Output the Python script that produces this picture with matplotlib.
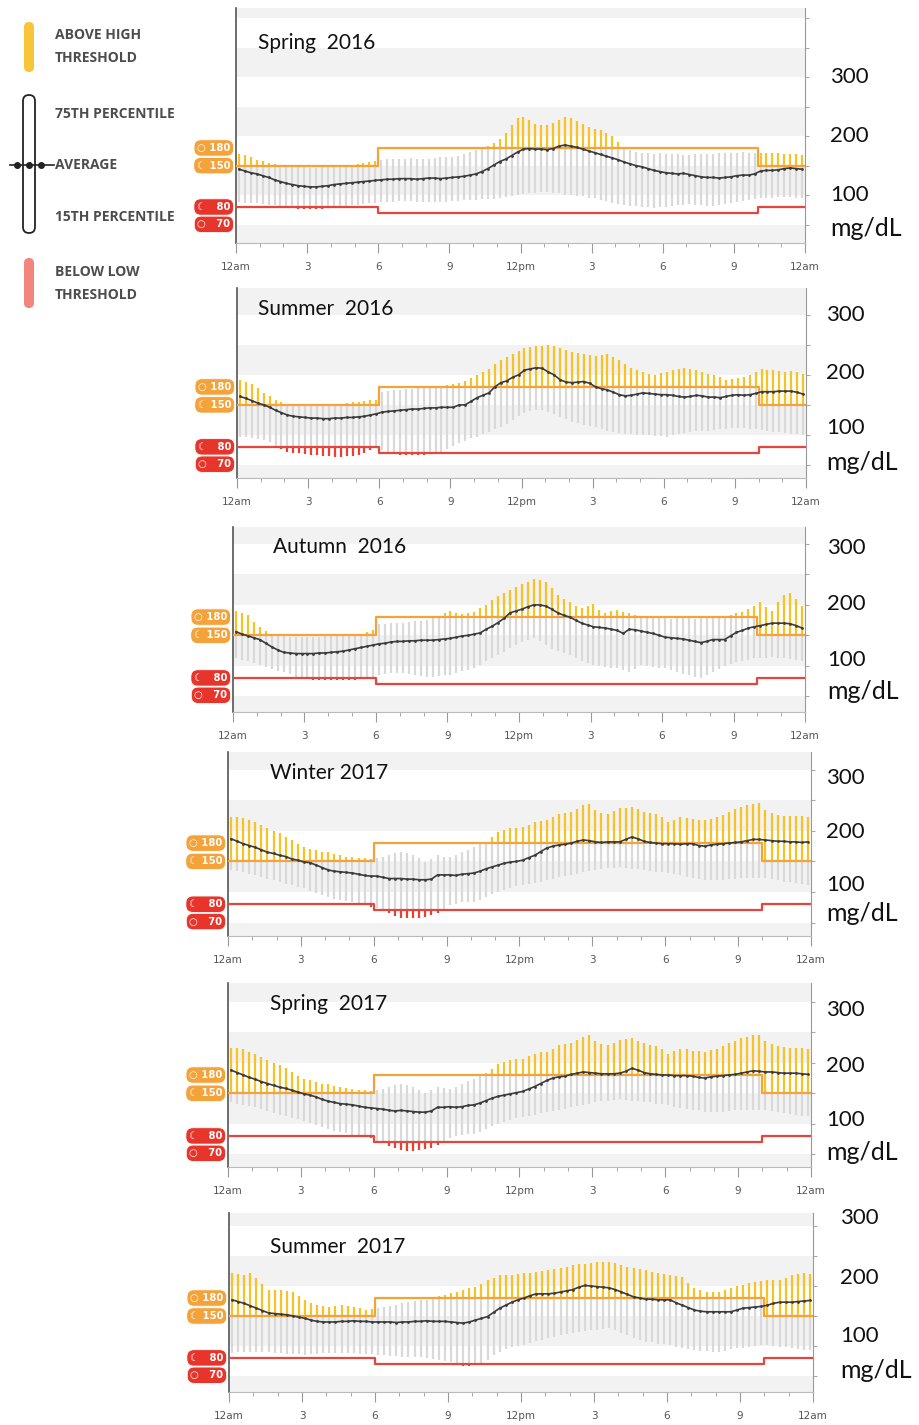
import numpy as np
import matplotlib
matplotlib.use("Agg")
import matplotlib.pyplot as plt
from matplotlib.patches import FancyBboxPatch

W, H = 920, 1425

# 96 slots of 15 minutes, x in hours
slots = np.arange(96) / 4 + 0.125
hour_ticks = [0, 3, 6, 9, 12, 15, 18, 21, 24]
hour_labels = ["12am", "3", "6", "9", "12pm", "3", "6", "9", "12am"]

# targets: night (12am-6am, 10pm-12am) and day
day_start, day_end = 6, 22
high_night, high_day = 150, 180
low_night, low_day = 80, 70

# ---- Spring 2016 ----
spring16_mean = [144,141,138,136, 133,130,126,123, 120,118,116,115, 114,114,115,116, 118,119,120,121, 122,123,124,125,
                 126,127,127,128, 128,128,127,128, 129,129,128,129, 130,131,132,134, 136,140,145,151, 157,161,167,173,
                 178,179,178,178, 177,179,183,185, 183,181,178,175, 172,169,166,163, 160,156,153,150, 148,145,142,140,
                 138,137,136,137, 135,133,131,130, 130,129,130,131, 133,134,134,136, 141,142,142,143, 145,146,145,144]
spring16_p75 = [170,168,164,160, 158,155,153,151, 150,149,148,147, 146,146,147,147, 148,149,150,151, 152,154,156,158,
                160,161,162,161, 162,163,162,162, 162,163,164,164, 165,167,170,173, 176,179,183,188, 195,205,218,230,
                232,228,220,218, 218,222,228,232, 230,226,220,215, 212,210,205,200, 190,182,176,173, 172,171,170,171,
                170,170,169,168, 168,169,169,170, 170,171,171,172, 172,173,172,172, 172,171,172,171, 170,170,169,168]
spring16_p15 = [88,87,87,86, 85,84,83,81, 80,78,77,76, 76,76,77,78, 80,81,82,83, 84,85,86,87,
                88,89,89,90, 90,90,89,89, 88,88,89,89, 90,90,91,91, 92,93,93,94, 95,97,99,100,
                102,103,104,105, 105,104,103,101, 100,99,98,96, 95,92,90,87, 85,83,82,81, 80,80,79,80,
                80,82,83,84, 85,84,83,82, 82,84,85,86, 88,90,92,93, 95,96,96,97, 97,97,96,95]

# ---- Summer 2016 ----
summer16_mean = [164,161,157,153, 150,146,141,137, 133,131,130,129, 128,128,127,127, 128,128,129,129, 130,131,133,135,
                 138,139,140,141, 142,143,143,144, 145,145,146,146, 146,150,150,156, 162,166,170,180, 187,190,196,200,
                 208,210,212,211, 205,200,192,188, 187,188,189,186, 180,177,175,171, 167,165,166,168, 170,169,168,167,
                 167,166,164,163, 164,166,165,163, 163,162,164,166, 167,166,167,169, 172,172,172,173, 173,173,171,168]
summer16_p75 = [192,188,185,178, 170,165,158,155, 152,151,150,150, 150,150,151,150, 152,152,153,154, 155,156,158,158,
                172,173,174,175, 176,177,178,179, 180,182,182,183, 184,187,190,195, 200,205,210,218, 225,230,235,240,
                245,247,248,249, 250,248,245,241, 238,236,235,233, 232,233,235,230, 225,218,212,208, 205,202,200,203,
                205,208,210,211, 210,208,205,202, 200,196,192,193, 195,197,200,205, 210,209,208,206, 205,206,205,202]
summer16_p15 = [97,96,94,93, 92,88,80,76, 72,70,69,68, 67,66,65,64, 63,63,64,65, 67,70,75,78,
                74,71,68,67, 67,66,67,67, 68,70,72,76, 82,87,90,94, 97,101,105,109, 113,118,125,131,
                137,140,142,141, 138,134,130,126, 122,119,116,114, 113,110,107,105, 103,102,101,100, 100,99,98,98,
                97,99,101,103, 105,106,107,107, 108,109,110,111, 112,111,110,109, 108,107,105,104, 103,102,101,100]

# ---- Autumn 2016 ----
autumn16_mean = [156,152,149,146, 143,137,131,126, 122,121,120,120, 120,120,121,121, 122,123,124,126, 128,130,132,134,
                 136,137,139,140, 140,141,141,142, 142,142,143,144, 145,147,149,150, 152,154,160,165, 171,178,187,190,
                 193,197,200,200, 198,193,187,183, 180,175,170,167, 164,163,162,160, 158,153,160,159, 157,155,153,150,
                 147,146,145,144, 142,140,138,140, 143,143,143,149, 155,158,162,164, 166,168,170,170, 170,169,166,162]
autumn16_p75 = [190,187,184,172, 163,157,151,150, 149,148,148,148, 148,148,148,149, 149,149,150,150, 150,152,155,158,
                168,169,170,170, 170,172,173,174, 175,178,182,186, 190,187,185,186, 188,195,200,208, 215,220,225,230,
                235,238,242,241, 238,228,216,210, 204,198,195,199, 202,192,186,190, 192,188,186,183, 180,179,178,178,
                178,177,178,178, 178,177,178,179, 178,180,181,183, 186,189,193,198, 204,196,190,205, 216,219,210,198]
autumn16_p15 = [113,110,107,104, 101,98,95,92, 90,86,82,79, 78,77,77,77, 77,77,76,77, 77,78,80,82,
                84,86,88,88, 88,86,84,83, 82,82,83,84, 85,88,91,93, 96,102,108,113, 118,123,129,134,
                139,143,146,140, 134,128,124,121, 118,113,108,104, 101,99,98,97, 96,93,90,95, 101,99,98,97,
                96,93,90,87, 85,82,80,84, 90,95,99,103, 106,108,110,112, 113,113,114,113, 113,111,109,107]

# ---- Winter 2017 ----
winter17_mean = [187,183,179,176, 173,169,165,163, 160,158,154,152, 149,148,144,140, 136,134,133,132, 131,129,127,126,
                 126,124,122,122, 122,121,121,120, 120,121,128,128, 128,127,129,130, 131,134,138,141, 144,147,149,150,
                 152,156,160,166, 172,175,177,178, 180,183,185,184, 182,181,182,182, 182,186,190,187, 183,181,180,179,
                 179,179,178,179, 179,176,175,177, 178,179,180,181, 182,184,186,186, 185,184,183,183, 182,182,181,182]
winter17_p75 = [223,222,221,218, 214,210,204,200, 196,190,185,179, 173,170,168,166, 165,162,160,158, 157,156,155,154,
                155,157,160,163, 165,163,160,155, 149,154,160,158, 157,161,165,169, 173,178,182,190, 198,201,204,205,
                206,210,214,216, 217,222,228,230, 231,236,242,244, 234,230,228,232, 237,238,239,235, 231,229,228,222,
                214,218,222,221, 220,218,217,220, 222,226,231,235, 239,242,244,245, 234,230,226,225, 224,224,224,222]
winter17_p15 = [136,134,132,130, 128,125,122,119, 116,113,111,108, 106,102,99,95, 92,89,87,85, 83,81,78,76,
                73,69,65,61, 57,57,57,58, 59,62,65,71, 78,80,83,83, 83,87,92,96, 100,103,106,109,
                111,113,115,117, 119,121,124,126, 128,130,132,134, 136,138,139,140, 141,140,138,137, 136,135,133,132,
                131,129,127,125, 123,122,120,119, 119,120,121,122, 123,123,123,123, 123,121,119,117, 116,115,113,112]

# ---- Spring 2017 ----
spring17_mean = [188,184,180,176, 173,169,166,163, 160,158,155,152, 149,147,144,140, 137,135,133,132, 131,129,127,126,
                 125,124,122,121, 122,121,120,119, 119,121,127,127, 128,127,128,130, 131,134,138,142, 145,147,149,151,
                 153,157,161,166, 171,175,177,178, 181,183,185,184, 183,182,182,182, 183,186,191,188, 184,182,181,180,
                 180,179,179,179, 178,176,175,177, 178,179,180,181, 183,185,187,186, 185,185,184,183, 183,183,182,181]
spring17_p75 = [225,224,222,218, 215,210,205,200, 196,191,185,179, 174,171,168,166, 165,162,160,158, 157,156,155,154,
                155,157,161,164, 165,163,160,156, 150,155,160,158, 157,161,165,170, 174,178,183,190, 198,202,204,206,
                207,211,214,217, 218,223,229,231, 233,237,243,245, 235,231,229,233, 238,239,240,236, 232,230,228,222,
                215,219,223,222, 220,219,218,221, 223,227,232,236, 240,243,245,246, 235,231,227,226, 225,225,224,222]
spring17_p15 = [135,133,131,129, 127,124,121,118, 115,112,110,107, 105,101,98,94, 91,88,86,84, 82,80,78,77,
                72,68,64,60, 57,56,56,57, 58,61,65,71, 77,80,82,83, 83,87,91,96, 99,103,106,109,
                111,113,115,117, 119,121,123,125, 127,129,131,133, 135,137,138,139, 140,139,138,137, 136,135,133,132,
                130,128,126,124, 123,122,120,119, 119,120,121,122, 123,123,123,123, 122,121,119,117, 116,115,113,112]

# ---- Summer 2017 ----
summer17_mean = [177,174,171,167, 163,159,155,154, 153,152,150,148, 146,143,141,140, 140,140,141,141, 142,141,141,140,
                 140,140,140,139, 140,140,141,141, 142,141,141,141, 140,139,138,140, 143,146,149,156, 163,168,173,177,
                 180,184,187,187, 187,188,190,192, 194,198,201,200, 199,198,197,194, 190,186,182,180, 178,178,177,177,
                 177,172,168,164, 160,158,157,157, 157,157,157,160, 163,164,165,166, 168,171,173,173, 173,174,175,176]
summer17_p75 = [222,220,218,222, 213,203,193,193, 193,192,190,184, 177,172,168,166, 165,167,168,166, 165,163,160,161,
                163,165,167,169, 171,173,175,176, 177,180,183,185, 188,190,193,196, 198,204,210,214, 218,218,218,220,
                222,222,223,225, 227,228,230,232, 235,236,236,238, 240,240,240,238, 235,232,230,228, 227,224,222,220,
                218,216,215,205, 197,193,190,190, 190,193,197,200, 202,205,207,209, 210,210,210,214, 218,220,222,220]
summer17_p15 = [88,89,89,90, 90,90,89,88, 88,87,87,86, 85,86,87,88, 88,88,88,88, 88,87,86,86,
                85,84,83,83, 82,82,81,81, 80,78,76,75, 73,70,66,67, 68,72,77,84, 90,94,98,100,
                102,105,108,110, 113,115,118,120, 122,123,125,126, 127,129,130,127, 122,118,114,110, 107,106,104,103,
                102,99,96,94, 93,92,91,90, 90,92,94,96, 97,99,100,101, 102,100,99,98, 97,95,93,93]

titles = ["Spring  2016", "Summer  2016", "Autumn  2016", "Winter 2017", "Spring  2017", "Summer  2017"]
series = [(spring16_mean, spring16_p75, spring16_p15),
          (summer16_mean, summer16_p75, summer16_p15),
          (autumn16_mean, autumn16_p75, autumn16_p15),
          (winter17_mean, winter17_p75, winter17_p15),
          (spring17_mean, spring17_p75, spring17_p15),
          (summer17_mean, summer17_p75, summer17_p15)]

# panel frames in pixels: left, right, top, bottom ; y range
frames = [(236, 805, 8, 243), (237, 806, 288, 478), (233, 805, 527, 712),
          (228, 811, 752, 936), (228, 811, 983, 1167), (229, 813, 1213, 1392)]
yranges = [(19, 417), (28, 345), (24, 328), (28, 329), (29, 331), (23, 322)]
title_pos = [(258, 43), (258, 309), (273, 547), (270, 773), (270, 1004), (270, 1247)]
# right hand labels: x, y of 300, 200, 100, mg/dL
unit_pos = [(830, 77, 136, 195, 228), (826, 315, 373, 428, 462), (827, 548, 604, 660, 691),
            (826, 778, 832, 885, 913), (826, 1010, 1066, 1120, 1152), (840, 1218, 1278, 1336, 1370)]

GRAY = "#d9d9d9"
YELLOW = "#f7c226"
RED = "#e8412f"
ORANGE = "#f4a23a"
LINE_RED = "#e2463c"
BADGE_RED = "#e8352b"

fig = plt.figure(figsize=(W / 100, H / 100), dpi=100)

day = (slots >= day_start) & (slots < day_end)
hi = np.where(day, high_day, high_night)
lo = np.where(day, low_day, low_night)
step_x = [0, day_start, day_start, day_end, day_end, 24]
step_hi = [high_night, high_night, high_day, high_day, high_night, high_night]
step_lo = [low_night, low_night, low_day, low_day, low_night, low_night]


def badge(ax, y, text, color, dy=0):
    ax.annotate(text, xy=(0, y), xycoords=("axes fraction", "data"), xytext=(-4, dy),
                textcoords="offset points", ha="right", va="center", fontsize=7.2,
                color="white", fontweight="bold", family=["DejaVu Sans"],
                bbox=dict(boxstyle="round,pad=0.32,rounding_size=0.7", fc=color, ec="white", lw=0.6),
                annotation_clip=False, zorder=5)


for (L, R, T, B), (y0, y1), (mean, p75, p15) in zip(frames, yranges, series):
    ax = fig.add_axes([L / W, 1 - B / H, (R - L) / W, (B - T) / H])
    ax.set_xlim(0, 24)
    ax.set_ylim(y0, y1)
    for b in range(0, 450, 100):
        ax.axhspan(b, b + 50, color="#f2f2f2", lw=0, zorder=0)

    mean, p75, p15 = np.array(mean), np.array(p75), np.array(p15)
    ax.vlines(slots, np.maximum(p15, lo), np.minimum(p75, hi), color=GRAY, lw=1.6, zorder=2)
    up = p75 > hi
    ax.vlines(slots[up], hi[up], p75[up], color=YELLOW, lw=1.6, zorder=2)
    dn = p15 < lo
    ax.vlines(slots[dn], p15[dn], lo[dn], color=RED, lw=1.6, zorder=2)

    ax.plot(step_x, step_hi, color=ORANGE, lw=1.6, zorder=3)
    ax.plot(step_x, step_lo, color=LINE_RED, lw=1.6, zorder=3)
    ax.plot(slots, mean, color="#3b3b3b", lw=1.2, marker="o", ms=1.0, zorder=4)

    ax.set_xticks(hour_ticks)
    ax.set_xticklabels(hour_labels, fontsize=7.5, color="#555555")
    ax.set_xticks(range(25), minor=True)
    ax.tick_params(axis="x", which="major", length=7, color="#999999", pad=7)
    ax.tick_params(axis="x", which="minor", length=3, color="#999999")
    ax.yaxis.tick_right()
    ax.set_yticks(range(50, int(y1), 50))
    ax.set_yticklabels([])
    ax.tick_params(axis="y", length=3, color="#aaaaaa")
    ax.spines["top"].set_visible(False)
    ax.spines["left"].set_color("#555555")
    ax.spines["left"].set_linewidth(1.2)
    ax.spines["right"].set_color("#999999")
    ax.spines["bottom"].set_color("#bbbbbb")

    badge(ax, high_day, "\u25cb 180", ORANGE)
    badge(ax, high_night, "\u263e 150", ORANGE)
    badge(ax, low_night, "\u263e   80", BADGE_RED)
    badge(ax, low_night, "\u25cb   70", BADGE_RED, dy=-12.5)

# overlay for text and legend, pixel coordinates
ov = fig.add_axes([0, 0, 1, 1], zorder=10)
ov.set_xlim(0, W)
ov.set_ylim(H, 0)
ov.axis("off")

for t, (x, y) in zip(titles, title_pos):
    ov.text(x, y, t, fontsize=15, family="Lato", va="center", ha="left", color="#111111")

for x, y3, y2, y1, yu in unit_pos:
    for lab, yy in (("300", y3), ("200", y2), ("100", y1)):
        ov.text(x, yy, lab, fontsize=16, family="Lato", va="center", ha="left", color="#111111")
    ov.text(x, yu, "mg/dL", fontsize=18, family="Lato", va="center", ha="left", color="#111111")

# legend
leg_font = dict(fontsize=10, family="Open Sans", fontweight="bold", color="#4d4d4d", va="center", ha="left")
ov.add_patch(FancyBboxPatch((24, 22), 10, 50, boxstyle="round,pad=0,rounding_size=5",
                            fc="#f8c53a", ec="none"))
ov.text(55, 35, "ABOVE HIGH", **leg_font)
ov.text(55, 58, "THRESHOLD", **leg_font)
ov.add_patch(FancyBboxPatch((23, 95), 12, 138, boxstyle="round,pad=0,rounding_size=6",
                            fc="white", ec="#222222", lw=1.3))
ov.plot([10, 54], [165, 165], color="#222222", lw=1.2)
ov.plot([17, 29, 41], [165, 165, 165], "o", color="#222222", ms=4)
ov.text(55, 114, "75TH PERCENTILE", **leg_font)
ov.text(55, 165, "AVERAGE", **leg_font)
ov.text(55, 217, "15TH PERCENTILE", **leg_font)
ov.add_patch(FancyBboxPatch((24, 258), 10, 50, boxstyle="round,pad=0,rounding_size=5",
                            fc="#f2857c", ec="none"))
ov.text(55, 272, "BELOW LOW", **leg_font)
ov.text(55, 295, "THRESHOLD", **leg_font)

fig.savefig("out.png", dpi=100)
